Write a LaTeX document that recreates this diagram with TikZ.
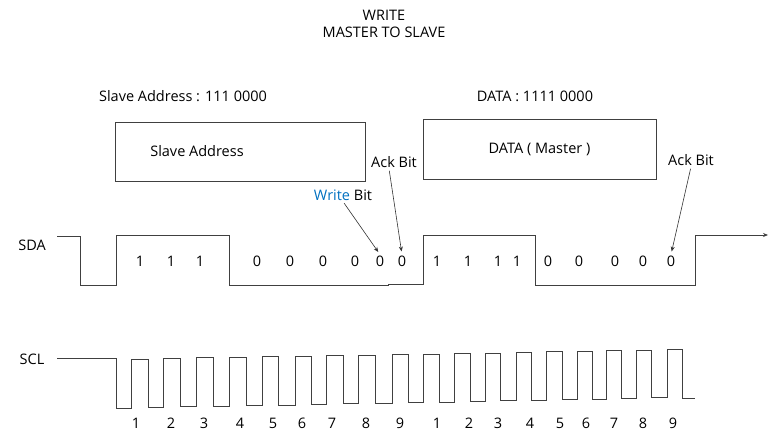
\documentclass[tikz,border=0pt]{standalone}
\usepackage{fontspec}
\setmainfont{Open Sans}
\usetikzlibrary{arrows.meta}

\tikzset{
    wave/.style={black!75, line width=0.8pt},
    pointer/.style={black!80, line width=0.6pt, -{Stealth[length=5pt,width=4pt]}, shorten <=2pt, shorten >=3pt},
}

\begin{document}
\begin{tikzpicture}[x=1pt, y=-1pt, every node/.style={font=\fontsize{14.5}{17}\selectfont, inner sep=1pt}]
    \useasboundingbox (0,0) rectangle (773,435);

    \node[align=center] (title) at (384,24) {WRITE\\[0pt]MASTER TO SLAVE};
    \node (saddr) at (183,96) {Slave Address : 111 0000};
    \node (daddr) at (535,96) {DATA : 1111 0000};

    \draw[black!75] (115,122) rectangle (365,181);
    \node (salabel) at (197,151) {Slave Address};
    \node[draw=black!75, minimum width=233pt, minimum height=60pt] (databox) at (539.5,149) {DATA ( Master )};

    \node (sda) at (32,245) {SDA};
    \node (scl) at (32,359) {SCL};

    \draw[wave, -{Stealth[length=5pt,width=4pt]}]
        (57,236) -- (80,236) -- (80,285) -- (116,285) -- (116,235) -- (229,235) --
        (229,285) -- (388,285) -- (388,284) -- (423,284) -- (423,235) -- (535,235) --
        (535,285) -- (695,285) -- (695,235) -- (768,235);

    \foreach \x/\v [count=\i] in {140/1, 171/1, 200/1, 257/0, 290/0, 323/0, 355/0, 380/0, 402/0,
                                  437/1, 468/1, 498/1, 517/1, 548/0, 579/0, 615/0, 643/0, 671/0}
        \node (b\i) at (\x,261) {\v};

    \node (wbit) at (343,195) {\textcolor[RGB]{0,112,192}{Write} Bit};
    \node (ack1) at (394,162) {Ack Bit};
    \node (ack2) at (691,160) {Ack Bit};
    \draw[pointer] (wbit.south) -- (b8.north);
    \draw[pointer] ([xshift=-5pt]ack1.south) -- (b9.north);
    \draw[pointer] (ack2.south) -- (b18.north);

    \draw[wave] (57,358) -- (116,358) -- (116,408);
    \foreach \r/\f/\n/\lx [count=\i, remember=\f as \p (initially 116),
                           evaluate={\hi=359.5-0.55*\i; \lo=408.5-0.6*\i;}] in
        {131/148/1/136, 163/180/2/171, 196/213/3/204, 229/246/4/240, 262/278/5/273,
         295/311/6/302, 326/343/7/332, 358/375/8/366, 392/408/9/400,
         423/439/1/437, 454/470/2/469, 485/500/3/498, 516/531/4/530, 546/562/5/560,
         577/592/6/586, 606/621/7/614, 636/651/8/643, 667/682/9/673} {
        \draw[wave] (\p,\lo) -- (\r,\lo) -- (\r,\hi) -- (\f,\hi) -- (\f,\lo);
        \node (n\i) at (\lx,423) {\n};
    }
    \draw[wave] (682,398) -- (695,398);
\end{tikzpicture}
\end{document}
